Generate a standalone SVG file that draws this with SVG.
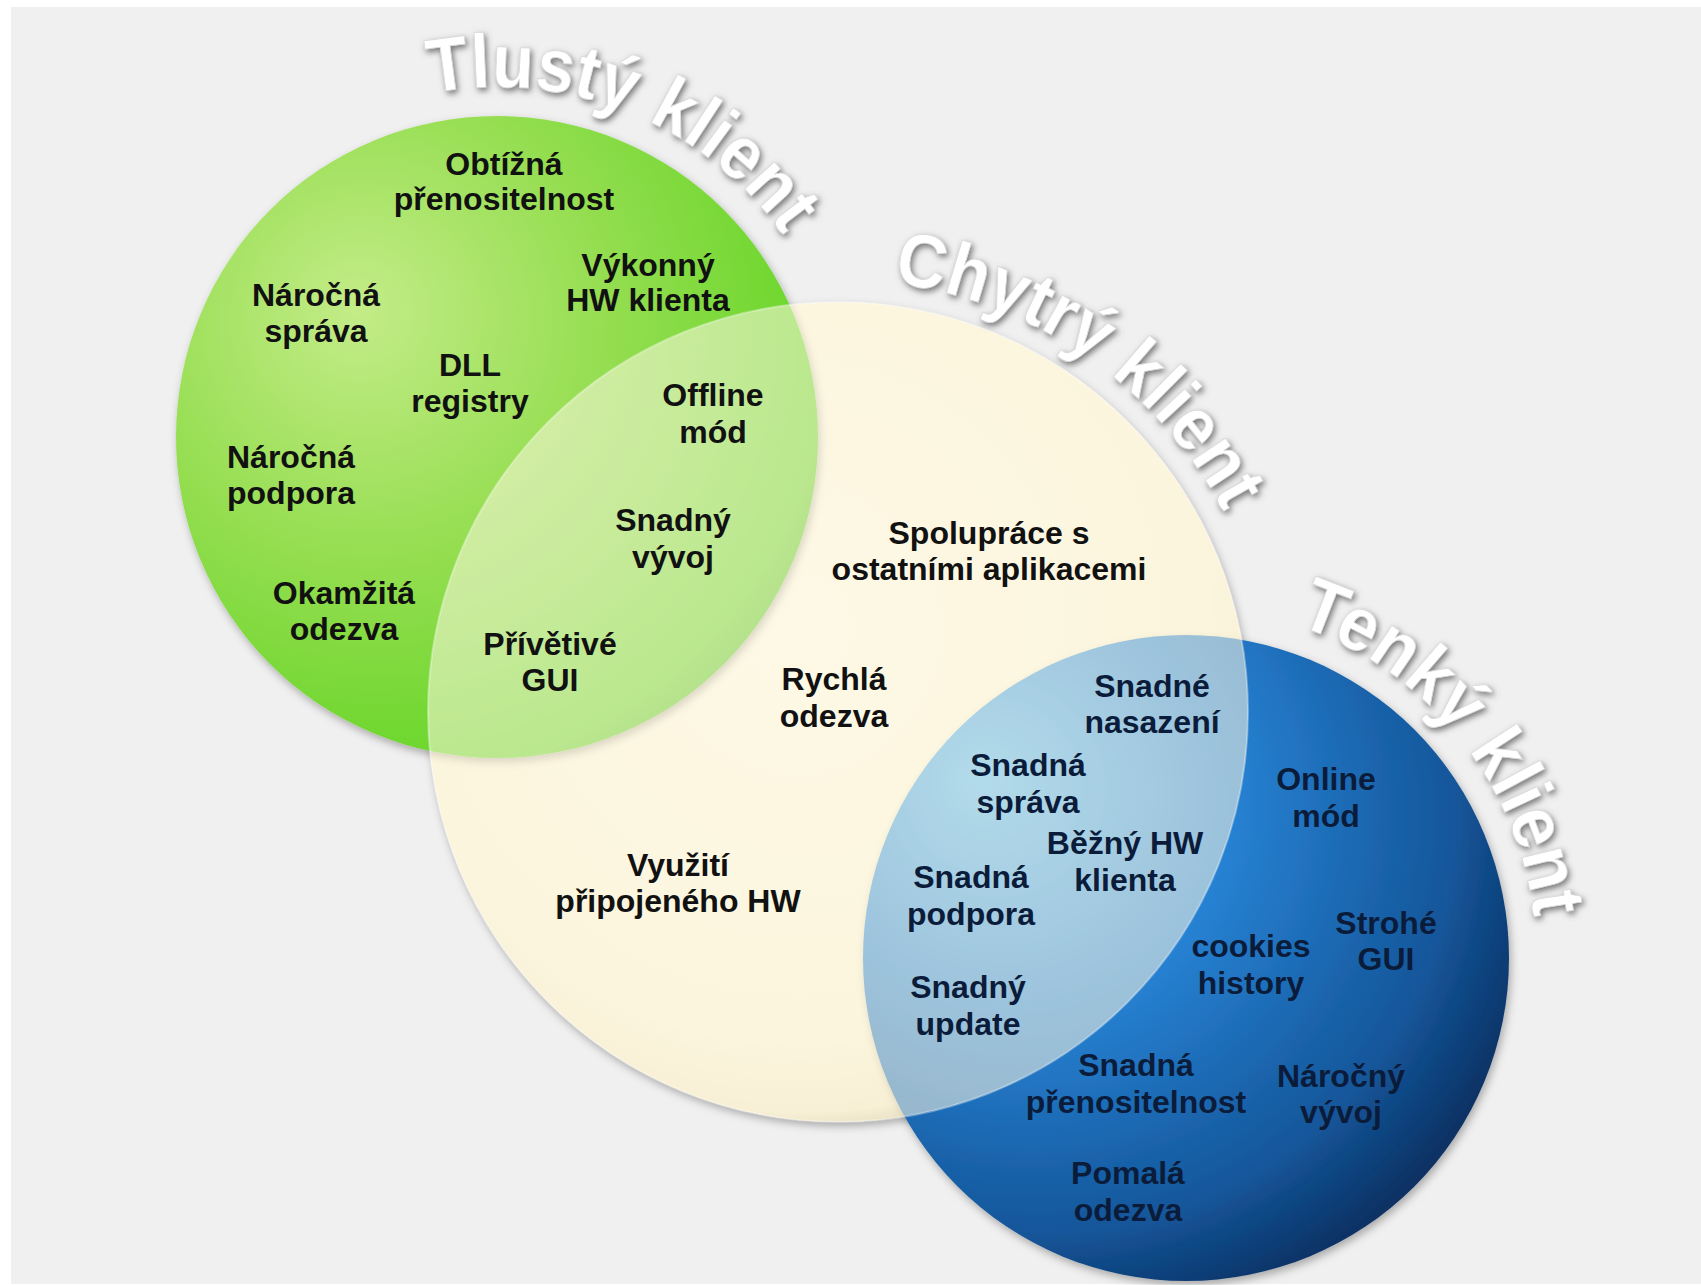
<svg xmlns="http://www.w3.org/2000/svg" xmlns:xlink="http://www.w3.org/1999/xlink" width="1701" height="1285" viewBox="0 0 1701 1285">
<defs>
<style>
.lbl{font-family:"Liberation Sans",Arial,sans-serif;font-weight:bold;font-size:32px;text-anchor:middle;fill:#111}
.lbl.b{fill:#0b1c3a}
.ttl{font-family:"Liberation Sans",Arial,sans-serif;font-weight:bold;font-size:76px;fill:#ffffff;stroke:#d8d8d8;stroke-width:0.8}
</style>
<radialGradient id="gGreen" cx="0.33" cy="0.35" r="0.8" fx="0.28" fy="0.3">
<stop offset="0" stop-color="#c4ec88"/>
<stop offset="0.45" stop-color="#96de52"/>
<stop offset="0.85" stop-color="#6ad62a"/>
<stop offset="1" stop-color="#52b420"/>
</radialGradient>
<radialGradient id="gCream" cx="0.45" cy="0.4" r="0.62">
<stop offset="0" stop-color="#fefaea"/>
<stop offset="0.8" stop-color="#faf2d8"/>
<stop offset="0.95" stop-color="#f0e6c6"/>
<stop offset="1" stop-color="#c0b490"/>
</radialGradient>
<radialGradient id="gBlue" cx="0.3" cy="0.3" r="0.8" fx="0.18" fy="0.22">
<stop offset="0" stop-color="#58b8f4"/>
<stop offset="0.4" stop-color="#2884d6"/>
<stop offset="0.8" stop-color="#14569a"/>
<stop offset="1" stop-color="#0a2c5c"/>
</radialGradient>
<filter id="sh" x="-10%" y="-10%" width="120%" height="120%">
<feDropShadow dx="2" dy="4" stdDeviation="4" flood-color="#000" flood-opacity="0.3"/>
</filter>
<filter id="ts" x="-20%" y="-20%" width="140%" height="140%">
<feGaussianBlur in="SourceAlpha" stdDeviation="3" result="b"/>
<feOffset in="b" dx="2" dy="3" result="o"/>
<feFlood flood-color="#606060" flood-opacity="0.85"/>
<feComposite in2="o" operator="in" result="s"/>
<feMerge><feMergeNode in="s"/><feMergeNode in="SourceGraphic"/></feMerge>
</filter>
<path id="arcT" d="M 430.2 93.4 A 350 350 0 0 1 825.9 317.3"/>
<path id="arcC" d="M 893 283 A 435 435 0 0 1 1258.2 599.4"/>
<path id="arcK" d="M 1296 625 A 350 350 0 0 1 1536 958"/>
</defs>
<rect x="0" y="0" width="1701" height="1285" fill="#ffffff"/>
<rect x="11" y="7" width="1690" height="1277" fill="#f0f0f0"/>

<g id="chytry-klient">
<circle cx="838" cy="712" r="410" fill="url(#gCream)" filter="url(#sh)"/>
<text class="ttl" filter="url(#ts)"><textPath xlink:href="#arcC" href="#arcC" textLength="418" lengthAdjust="spacingAndGlyphs">Chytrý klient</textPath></text>
</g>
<g id="tlusty-klient">
<circle cx="497" cy="437" r="321" fill="url(#gGreen)" filter="url(#sh)"/>
<text class="ttl" filter="url(#ts)"><textPath xlink:href="#arcT" href="#arcT" textLength="402" lengthAdjust="spacingAndGlyphs">Tlustý klient</textPath></text>
</g>
<g id="tenky-klient">
<circle cx="1186" cy="958" r="323" fill="url(#gBlue)" filter="url(#sh)"/>
<text class="ttl" filter="url(#ts)"><textPath xlink:href="#arcK" href="#arcK" textLength="398" lengthAdjust="spacingAndGlyphs">Tenký klient</textPath></text>
</g>
<g id="chytry-overlay">
<circle cx="838" cy="712" r="410" fill="#fdf8e2" fill-opacity="0.55" stroke="#ffffff" stroke-opacity="0.35" stroke-width="2"/>
</g>

<g id="labels-tlusty">
<text class="lbl" x="504" y="175">Obtížná<tspan x="504" dy="35">přenositelnost</tspan></text>
<text class="lbl" x="648" y="276">Výkonný<tspan x="648" dy="35">HW klienta</tspan></text>
<text class="lbl" x="316" y="306">Náročná<tspan x="316" dy="36">správa</tspan></text>
<text class="lbl" x="470" y="376">DLL<tspan x="470" dy="36">registry</tspan></text>
<text class="lbl" x="291" y="468">Náročná<tspan x="291" dy="36">podpora</tspan></text>
<text class="lbl" x="344" y="604">Okamžitá<tspan x="344" dy="36">odezva</tspan></text>
</g>
<g id="labels-tlusty-chytry">
<text class="lbl" x="713" y="406">Offline<tspan x="713" dy="37">mód</tspan></text>
<text class="lbl" x="673" y="531">Snadný<tspan x="673" dy="37">vývoj</tspan></text>
<text class="lbl" x="550" y="655">Přívětivé<tspan x="550" dy="36">GUI</tspan></text>
</g>
<g id="labels-chytry">
<text class="lbl" x="989" y="544">Spolupráce s<tspan x="989" dy="36">ostatními aplikacemi</tspan></text>
<text class="lbl" x="834" y="690">Rychlá<tspan x="834" dy="37">odezva</tspan></text>
<text class="lbl" x="678" y="876">Využití<tspan x="678" dy="36">připojeného HW</tspan></text>
</g>
<g id="labels-chytry-tenky">
<text class="lbl b" x="1152" y="697">Snadné<tspan x="1152" dy="36">nasazení</tspan></text>
<text class="lbl b" x="1028" y="776">Snadná<tspan x="1028" dy="37">správa</tspan></text>
<text class="lbl b" x="1125" y="854">Běžný HW<tspan x="1125" dy="37">klienta</tspan></text>
<text class="lbl b" x="971" y="888">Snadná<tspan x="971" dy="37">podpora</tspan></text>
<text class="lbl b" x="968" y="998">Snadný<tspan x="968" dy="37">update</tspan></text>
</g>
<g id="labels-tenky">
<text class="lbl b" x="1326" y="790">Online<tspan x="1326" dy="37">mód</tspan></text>
<text class="lbl b" x="1386" y="934">Strohé<tspan x="1386" dy="36">GUI</tspan></text>
<text class="lbl b" x="1251" y="957">cookies<tspan x="1251" dy="37">history</tspan></text>
<text class="lbl b" x="1136" y="1076">Snadná<tspan x="1136" dy="37">přenositelnost</tspan></text>
<text class="lbl b" x="1341" y="1087">Náročný<tspan x="1341" dy="36">vývoj</tspan></text>
<text class="lbl b" x="1128" y="1184">Pomalá<tspan x="1128" dy="37">odezva</tspan></text>
</g>
</svg>
